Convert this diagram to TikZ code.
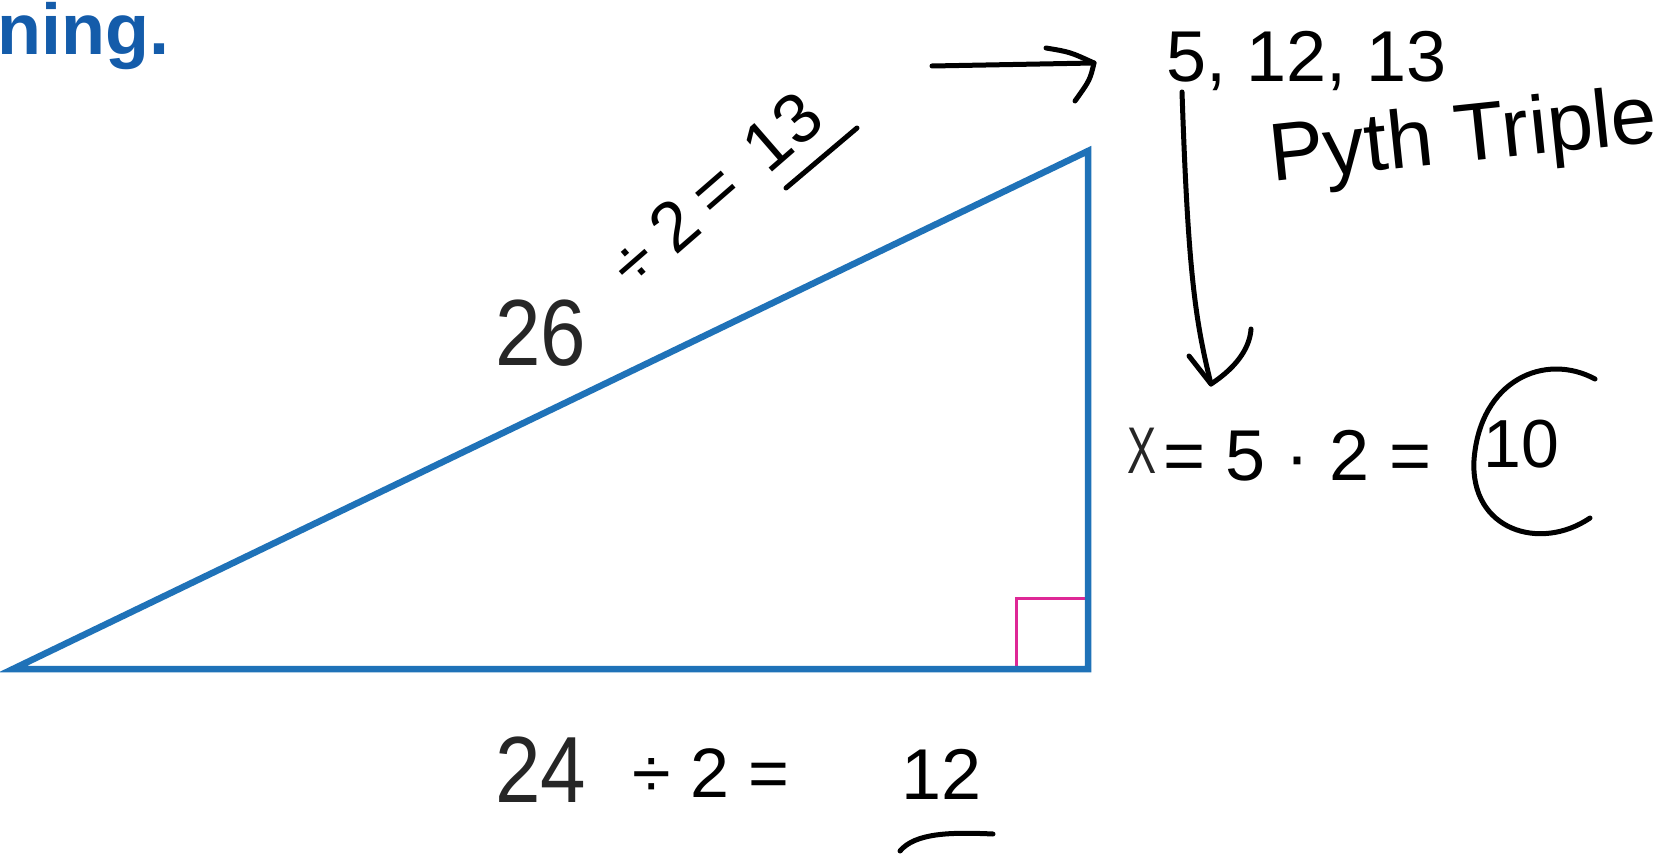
\documentclass[tikz,border=0pt]{standalone}
\usepackage{fontspec}
\setmainfont{Liberation Sans}
\usetikzlibrary{arrows.meta}
\definecolor{triblue}{RGB}{31,114,184}
\definecolor{headblue}{RGB}{20,92,170}
\definecolor{rmag}{RGB}{222,40,150}
\newcommand{\myfs}[1]{\fontsize{#1}{#1}\selectfont}
\tikzset{
  typed/.style={inner sep=0pt, text=black!85},
  hand/.style={inner sep=0pt, text=black},
  ink/.style={draw=black, line width=5pt, line cap=round, line join=round},
  edge/.style={draw=triblue, line width=6.5pt, line join=miter},
  rmark/.style={draw=rmag, line width=3pt},
}
\begin{document}
\begin{tikzpicture}[x=1pt,y=-1pt]
\useasboundingbox[fill=white] (0,0) rectangle (1665,858);

% heading fragment
\node[inner sep=0pt, anchor=base east, text=headblue, font=\myfs{72}\bfseries] (head) at (170,55) {ning.};

% triangle
\coordinate (A) at (13,669);
\coordinate (B) at (1088,669);
\coordinate (C) at (1088,151);
\draw[rmark] (1016,669) -- (1016,598) -- (1088,598);
\draw[edge] (A) -- (B) -- (C) -- cycle;

% typed labels
\node[typed, anchor=base west, font=\myfs{94}] (hyp) at (495,366) {\scalebox{0.87}[1]{26}};
\node[typed, anchor=base west, font=\myfs{94}] (base) at (495,802) {\scalebox{0.87}[1]{24}};
\node[typed, anchor=base west, font=\myfs{66}] (xlab) at (1127,473) {\scalebox{0.66}[1]{X}};

% handwriting along hypotenuse
\node[hand, rotate=41, font=\myfs{70}] (hypcalc) at (715,190) {÷\hspace{16pt}2\hspace{14pt}=\hspace{30pt}13};
\draw[ink] (786,188) -- (857,128);

% arrow to triple
\node[hand, anchor=base west, font=\myfs{72}] (trip) at (1166,82) {5, 12, 13};
\node[hand, anchor=base west, rotate=6, font=\myfs{82}] (pyth) at (1272,182) {Pyth Triple};
\coordinate (arrS) at (932,66);
\coordinate (arrE) at (1094,63);
\draw[ink] (arrS) -- (arrE);
\draw[ink] (1046,48) .. controls (1070,52) .. (arrE) .. controls (1090,80) .. (1075,101);

% long down arrow
\coordinate (dS) at (1182,92);
\coordinate (dE) at (1211,384);
\draw[ink] (dS) .. controls (1188,270) and (1195,320) .. (dE);
\draw[ink] (1189,356) -- (dE) .. controls (1240,365) and (1250,345) .. (1251,329);

% x = 5 . 2 = 10
\node[hand, anchor=base west, font=\myfs{72}] (eqn) at (1163,480) {= 5 · 2 =};
\node[hand, anchor=base west, font=\myfs{68}] (ten) at (1483,467) {10};
\draw[ink] (1595,379) .. controls (1545,352) and (1480,380) .. (1474,460)
           .. controls (1470,530) and (1540,552) .. (1590,518);

% 24 / 2 = 12
\node[hand, anchor=base west, font=\myfs{70}] (bcalc) at (632,797) {÷ 2 =};
\node[hand, anchor=base west, font=\myfs{72}] (twelve) at (901,799) {12};
\draw[ink] (900,851) .. controls (915,833) and (950,832) .. (993,834);
\end{tikzpicture}
\end{document}
